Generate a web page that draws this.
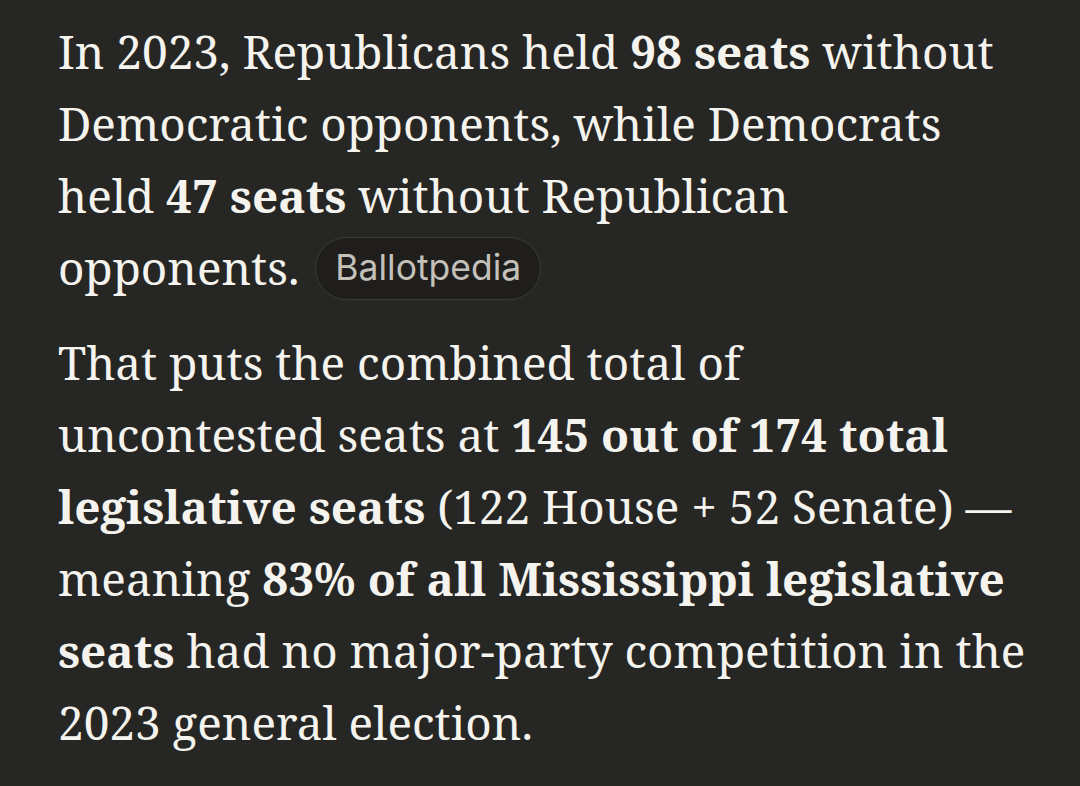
<!DOCTYPE html>
<html><head><meta charset="utf-8">
<script src="https://cdn.jsdelivr.net/npm/chart.js"></script>
<style>
html,body{margin:0;padding:0}
body{background:#262624;color:#f4f3ee;width:1080px;height:786px;overflow:hidden;
  font-family:'Noto Serif','DejaVu Serif',serif;font-size:45.9px;line-height:72px;}
p{margin:0;padding-left:58px;white-space:nowrap}
#p1{padding-top:15px}
#p2{margin-top:23px}
b{font-weight:700}
.pill{display:inline-block;position:relative;vertical-align:top;top:6px;box-sizing:border-box;height:63px;
  border:1.5px solid #3b3a37;border-radius:32px;background:#1f1e1d;color:#c3c1b9;
  font-family:'Inter','Liberation Sans',sans-serif;line-height:60px;padding:0 19px;margin-left:4px;white-space:nowrap}
</style></head>
<body>
<div id="root"></div>
<script>
// Figures quoted in the text
const years = [2023];
const unopposedLabels = ["Republicans", "Democrats"];
const unopposedSeats = [98, 47];
const chamberLabels = ["House", "Senate"];
const chamberSeats = [122, 52];
const totalSeats = [174];
const uncontestedShare = [83];
const sourceLabels = ["Ballotpedia"];

const combined = unopposedSeats[0] + unopposedSeats[1];
const root = document.getElementById('root');
root.innerHTML =
 '<p id="p1">In ' + years[0] + ', ' + unopposedLabels[0] + ' held <b>' + unopposedSeats[0] + ' seats</b> without<br>' +
 'Democratic opponents, while ' + unopposedLabels[1] + '<br>' +
 'held <b>' + unopposedSeats[1] + ' seats</b> without Republican<br>' +
 'opponents. <span class="pill" id="pill">' + sourceLabels[0] + '</span></p>' +
 '<p id="p2">That puts the combined total of<br>' +
 'uncontested seats at <b>' + combined + ' out of ' + totalSeats[0] + ' total</b><br>' +
 '<b>legislative seats</b> (' + chamberSeats[0] + ' ' + chamberLabels[0] + ' + ' + chamberSeats[1] + ' ' + chamberLabels[1] + ') —<br>' +
 'meaning <b>' + uncontestedShare[0] + '% of all Mississippi legislative</b><br>' +
 '<b>seats</b> had no major-party competition in the<br>' +
 years[0] + ' general election.</p>';

// fit the source pill's text to its width in the reference
const pill = document.getElementById('pill');
const probe = document.createElement('span');
probe.style.cssText = "font-family:'Inter','Liberation Sans',sans-serif;font-size:100px;position:absolute;visibility:hidden;white-space:nowrap";
probe.textContent = sourceLabels[0];
document.body.appendChild(probe);
const w100 = probe.getBoundingClientRect().width;
probe.remove();
pill.style.fontSize = (186 / w100 * 100).toFixed(2) + 'px';
</script>
</body></html>
